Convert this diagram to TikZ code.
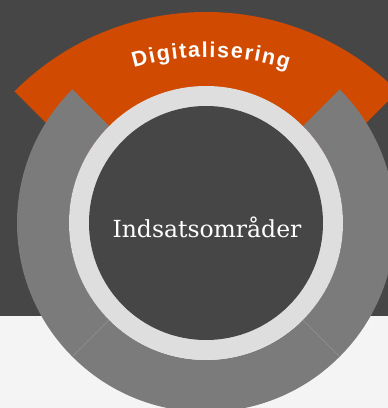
\documentclass[tikz,border=0pt]{standalone}
\usepackage{fontspec}
\usepackage{tikz}
\usetikzlibrary{positioning}
\usetikzlibrary{calc}
\usetikzlibrary{decorations.text}
\newfontfamily\arcfont[Scale=2.15]{Liberation Sans Bold}
\newfontfamily\hubfont{DejaVu Serif}
\definecolor{bgdark}{HTML}{464646}
\definecolor{bglight}{HTML}{F4F4F4}
\definecolor{focusorange}{HTML}{D04A02}
\definecolor{seggray}{HTML}{7B7B7B}
\definecolor{rimgray}{HTML}{DEDEDE}
\definecolor{sepgray}{HTML}{8F8F8F}
\tikzstyle{segment}=[fill=seggray]
\tikzstyle{rim}=[circle,fill=rimgray,minimum size=274pt,inner sep=0pt]
\tikzstyle{hub}=[circle,fill=bgdark,minimum size=234pt,inner sep=0pt]
\tikzstyle{sepline}=[draw=sepgray,line width=0.6pt]

\begin{document}
\begin{tikzpicture}[x=1pt,y=1pt]
\useasboundingbox (0,0) rectangle (388,408);
\fill[bgdark] (0,92) rectangle (388,408);
\fill[bglight] (0,0) rectangle (388,92);
\coordinate (c) at (206,185);
\coordinate (o) at (206,125);
\coordinate (t) at (208,84);
\fill[focusorange] (o) -- ([shift={(135:271)}]o) arc[start angle=135,end angle=45,radius=271] -- cycle;
\foreach \a in {135,225,315}
  \fill[segment] ([shift={(\a:137)}]c) -- ([shift={(\a:189)}]c)
    arc[start angle=\a,end angle=\a+90,radius=189]
    -- ([shift={(\a+90:137)}]c) arc[start angle=\a+90,end angle=\a,radius=137] -- cycle;
\foreach \a [count=\i] in {225,315} {
  \coordinate (sin\i) at ([shift={(\a:137)}]c);
  \coordinate (sout\i) at ([shift={(\a:189)}]c);
  \draw[sepline] (sin\i) -- (sout\i);
}
\node[rim] (rim) at (c) {};
\node[hub] (hub) at (c) {};
\node[anchor=base,text=white,font=\hubfont\fontsize{23.5}{28}\selectfont] (hubtext) at (207,170) {Indsatsområder};
\path[decorate,decoration={text along path,text color=white,text align=fit to path,
  text={|\arcfont|Digitalisering}}]
  ([shift={(106.1:267)}]t) arc[start angle=106.1,end angle=72.6,radius=267];
\end{tikzpicture}
\end{document}
